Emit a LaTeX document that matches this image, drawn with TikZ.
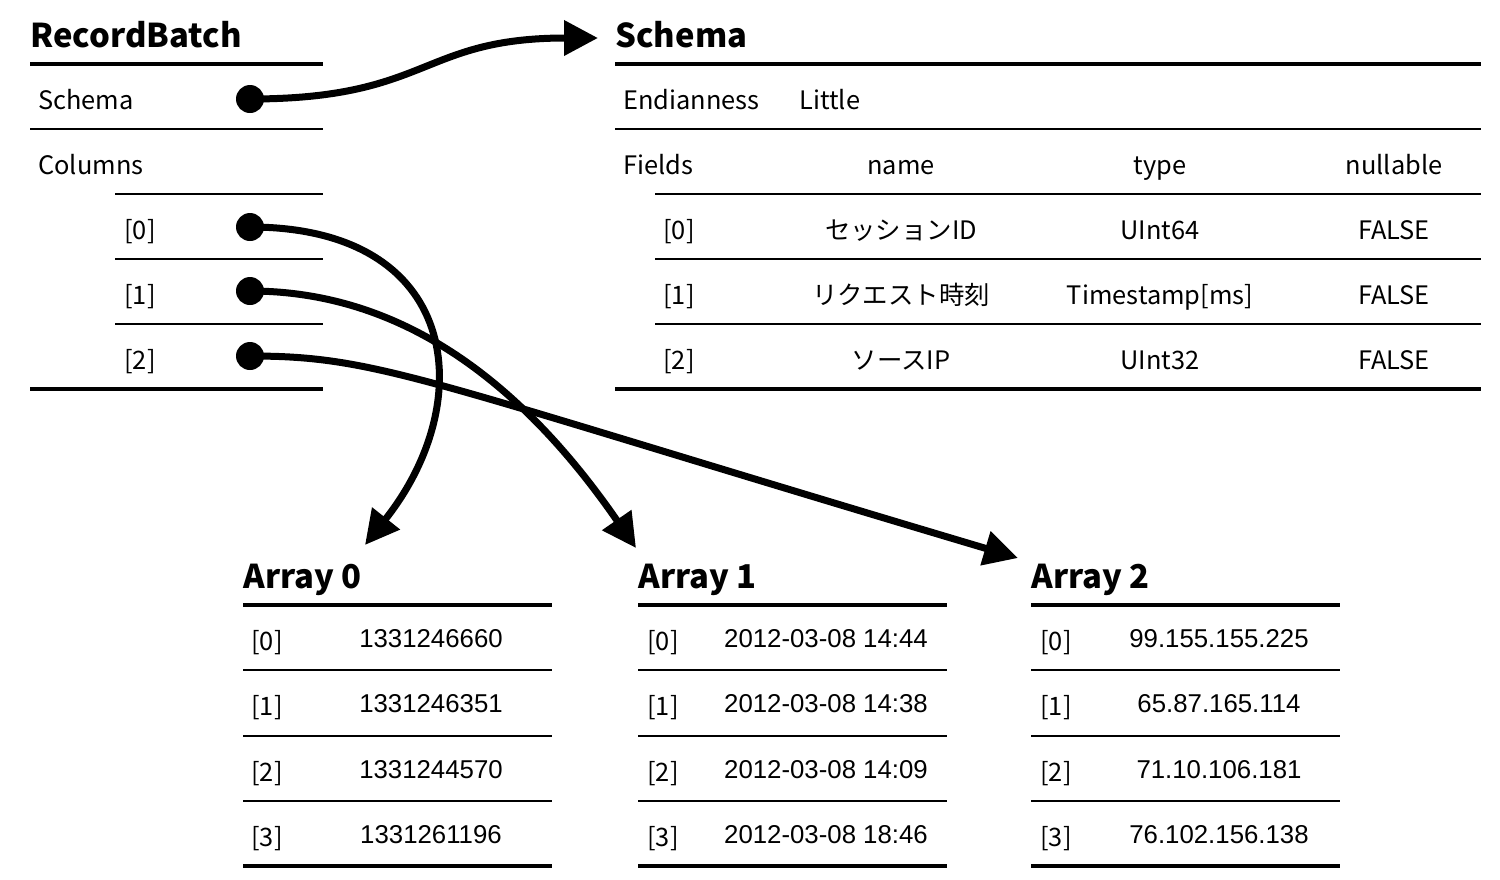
\documentclass[tikz,border=0pt]{standalone}
\usepackage{fontspec}
\setmainfont{Noto Sans CJK JP}
\newfontfamily\numfont{Liberation Sans}
\definecolor{RuleBlack}{RGB}{0, 0, 0}
\usetikzlibrary{arrows.meta, positioning}
\tikzset{
  heading/.style={anchor=base west, inner sep=0pt, font=\fontsize{16.4}{20}\selectfont\bfseries},
  cell/.style={anchor=base west, inner sep=0pt, font=\fontsize{12.7}{15}\selectfont},
  cellmid/.style={anchor=base, inner sep=0pt, font=\fontsize{12.7}{15}\selectfont},
  numcell/.style={anchor=base, inner sep=0pt, font=\fontsize{12.9}{15}\selectfont\numfont},
  heavyrule/.style={line width=2pt, color=RuleBlack},
  lightrule/.style={line width=1pt, color=RuleBlack},
  pin/.style={circle, fill=RuleBlack, inner sep=0pt, minimum size=14pt},
  link/.style={line width=3.5pt, color=RuleBlack, -{Triangle[length=17pt, width=17pt]}},
}

\begin{document}
\begin{tikzpicture}[x=0.5pt, y=-0.5pt]
\useasboundingbox (0,0) rectangle (1500,879);

% RecordBatch
\node[heading] (rbTitle) at (30,47) {RecordBatch};
\draw[heavyrule] (30,64) -- (323,64);
\node[cell] (rbSchema) at (38,109) {Schema};
\draw[lightrule] (30,129) -- (323,129);
\node[cell] (rbColumns) at (38,174) {Columns};
\draw[lightrule] (115,194) -- (323,194);
\node[cell] (rbIdx0) at (124,239) {[0]};
\draw[lightrule] (115,259) -- (323,259);
\node[cell] (rbIdx1) at (124,304) {[1]};
\draw[lightrule] (115,324) -- (323,324);
\node[cell] (rbIdx2) at (124,369) {[2]};
\draw[heavyrule] (30,389) -- (323,389);
\node[pin] (pinSchema) at (250,99) {};
\node[pin] (pin0) at (250,227) {};
\node[pin] (pin1) at (250,291) {};
\node[pin] (pin2) at (250,356) {};

% Schema
\node[heading] (scTitle) at (615,47) {Schema};
\draw[heavyrule] (615,64) -- (1481,64);
\node[cell] (scEndian) at (623,109) {Endianness};
\node[cell] (scLittle) at (799,109) {Little};
\draw[lightrule] (615,129) -- (1481,129);
\node[cell] (scFields) at (623,174) {Fields};
\node[cellmid] (scName) at (901,174) {name};
\node[cellmid] (scType) at (1160,174) {type};
\node[cellmid] (scNull) at (1394,174) {nullable};
\draw[lightrule] (655,194) -- (1481,194);
\node[cell] (scIdx0) at (663,239) {[0]};
\node[cellmid] (scName0) at (901,239) {セッションID};
\node[cellmid] (scType0) at (1160,239) {UInt64};
\node[cellmid] (scNull0) at (1394,239) {FALSE};
\draw[lightrule] (655,259) -- (1481,259);
\node[cell] (scIdx1) at (663,304) {[1]};
\node[cellmid] (scName1) at (901,304) {リクエスト時刻};
\node[cellmid] (scType1) at (1160,304) {Timestamp[ms]};
\node[cellmid] (scNull1) at (1394,304) {FALSE};
\draw[lightrule] (655,324) -- (1481,324);
\node[cell] (scIdx2) at (663,369) {[2]};
\node[cellmid] (scName2) at (901,369) {ソースIP};
\node[cellmid] (scType2) at (1160,369) {UInt32};
\node[cellmid] (scNull2) at (1394,369) {FALSE};
\draw[heavyrule] (615,389) -- (1481,389);

% Array 0
\node[heading] (arTitle0) at (243,588) {Array 0};
\draw[heavyrule] (243,605) -- (552,605);
\node[cell] (ar0Idx0) at (251,650) {[0]};
\node[numcell] (ar0Val0) at (431,647) {1331246660};
\draw[lightrule] (243,670) -- (552,670);
\node[cell] (ar0Idx1) at (251,715) {[1]};
\node[numcell] (ar0Val1) at (431,712) {1331246351};
\draw[lightrule] (243,736) -- (552,736);
\node[cell] (ar0Idx2) at (251,781) {[2]};
\node[numcell] (ar0Val2) at (431,778) {1331244570};
\draw[lightrule] (243,801) -- (552,801);
\node[cell] (ar0Idx3) at (251,846) {[3]};
\node[numcell] (ar0Val3) at (431,843) {1331261196};
\draw[heavyrule] (243,866) -- (552,866);

% Array 1
\node[heading] (arTitle1) at (638,588) {Array 1};
\draw[heavyrule] (638,605) -- (947,605);
\node[cell] (ar1Idx0) at (647,650) {[0]};
\node[numcell] (ar1Val0) at (826,647) {2012-03-08 14:44};
\draw[lightrule] (638,670) -- (947,670);
\node[cell] (ar1Idx1) at (647,715) {[1]};
\node[numcell] (ar1Val1) at (826,712) {2012-03-08 14:38};
\draw[lightrule] (638,736) -- (947,736);
\node[cell] (ar1Idx2) at (647,781) {[2]};
\node[numcell] (ar1Val2) at (826,778) {2012-03-08 14:09};
\draw[lightrule] (638,801) -- (947,801);
\node[cell] (ar1Idx3) at (647,846) {[3]};
\node[numcell] (ar1Val3) at (826,843) {2012-03-08 18:46};
\draw[heavyrule] (638,866) -- (947,866);

% Array 2
\node[heading] (arTitle2) at (1031,588) {Array 2};
\draw[heavyrule] (1031,605) -- (1340,605);
\node[cell] (ar2Idx0) at (1040,650) {[0]};
\node[numcell] (ar2Val0) at (1219,647) {99.155.155.225};
\draw[lightrule] (1031,670) -- (1340,670);
\node[cell] (ar2Idx1) at (1040,715) {[1]};
\node[numcell] (ar2Val1) at (1219,712) {65.87.165.114};
\draw[lightrule] (1031,736) -- (1340,736);
\node[cell] (ar2Idx2) at (1040,781) {[2]};
\node[numcell] (ar2Val2) at (1219,778) {71.10.106.181};
\draw[lightrule] (1031,801) -- (1340,801);
\node[cell] (ar2Idx3) at (1040,846) {[3]};
\node[numcell] (ar2Val3) at (1219,843) {76.102.156.138};
\draw[heavyrule] (1031,866) -- (1340,866);

% Pointers
\coordinate (schemaIn) at (598,38);
\coordinate (arrIn0) at (365,545);
\coordinate (arrIn1) at (636,548);
\coordinate (arrIn2) at (1018,558);
\draw[link] (pinSchema.center) .. controls (430,99) and (420,38) .. (schemaIn);
\draw[link] (pin0.center) .. controls (460,227) and (480,400) .. (arrIn0);
\draw[link] (pin1.center) .. controls (400,291) and (520,380) .. (arrIn1);
\draw[link] (pin2.center) .. controls (380,356) and (420,380) .. (arrIn2);
\end{tikzpicture}
\end{document}
